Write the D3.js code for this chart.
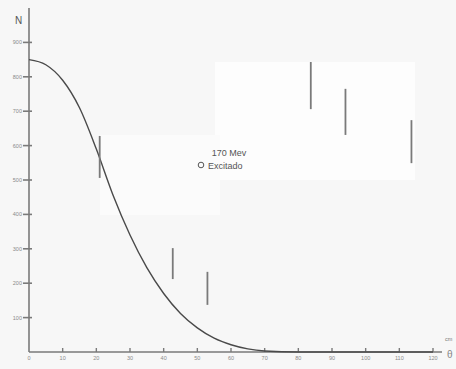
<!DOCTYPE html>
<html lang="en">
<head>
  <meta charset="UTF-8">
  <title>170 Mev Excitado</title>
  <style>
    body { margin: 0; background: #f8f8f8; }
    text { font-family: "Liberation Sans", Arial, sans-serif; }
  </style>
</head>
<body>
  <div id="chart"></div>
  <script src="https://d3js.org/d3.v7.min.js"></script>
  <script>
    // angles (deg) and counts
    const curveTheta = [0, 5, 10, 15, 20, 25, 30, 35, 40, 45, 50, 55, 60, 65, 70, 80, 90, 100, 110, 120];
    const curveN = [850, 835, 790, 710, 590, 455, 340, 245, 170, 112, 70, 40, 21, 9, 3, 0, 0, 0, 0, 0];

    // error bars: angle, low, high
    const barTheta = [21, 42.7, 53, 83.7, 94, 113.6];
    const barLow = [506, 212, 137, 706, 631, 549];
    const barHigh = [628, 302, 233, 843, 765, 674];

    const xTicks = [0, 10, 20, 30, 40, 50, 60, 70, 80, 90, 100, 110, 120];
    const yTicks = [100, 200, 300, 400, 500, 600, 700, 800, 900];

    const width = 456, height = 369;
    const svg = d3.select("#chart").append("svg")
      .attr("width", width).attr("height", height);

    // scanned paper patches
    svg.append("rect").attr("x", 0).attr("y", 0).attr("width", width).attr("height", height).attr("fill", "#f7f7f7");
    svg.append("rect").attr("x", 215).attr("y", 62).attr("width", 200).attr("height", 118).attr("fill", "#fdfdfd");
    svg.append("rect").attr("x", 100).attr("y", 135).attr("width", 120).attr("height", 80).attr("fill", "#fbfbfb");

    const x = d3.scaleLinear().domain([0, 120]).range([29, 433]);
    const y = d3.scaleLinear().domain([0, 900]).range([352, 42.4]);

    const axisColor = "#7a7a7a";

    // y axis
    svg.append("line").attr("x1", 29).attr("x2", 29).attr("y1", 8).attr("y2", y(0))
      .attr("stroke", axisColor).attr("stroke-width", 1.6);
    const yt = svg.append("g").selectAll("g").data(yTicks).join("g")
      .attr("transform", d => `translate(29,${y(d)})`);
    yt.append("line").attr("x1", -6).attr("x2", 3).attr("stroke", axisColor).attr("stroke-width", 1.6);
    yt.append("text").attr("x", -7).attr("y", 2).attr("text-anchor", "end")
      .attr("font-size", 5.5).attr("fill", "#8a8a8a").text(d => d);
    svg.append("text").attr("x", 15).attr("y", 24).attr("font-size", 10)
      .attr("font-family", "Liberation Serif, serif").attr("fill", "#555").text("N");

    // x axis
    svg.append("line").attr("x1", 29).attr("x2", 442).attr("y1", y(0)).attr("y2", y(0))
      .attr("stroke", axisColor).attr("stroke-width", 1.6);
    const xt = svg.append("g").selectAll("g").data(xTicks).join("g")
      .attr("transform", d => `translate(${x(d)},${y(0)})`);
    xt.filter(d => d > 0).append("line").attr("y1", -4).attr("y2", 0).attr("stroke", axisColor).attr("stroke-width", 1.4);
    xt.append("text").attr("y", 8).attr("text-anchor", "middle")
      .attr("font-size", 5.5).attr("fill", "#8a8a8a").text(d => d);
    svg.append("text").attr("x", 445).attr("y", 341).attr("font-size", 5.5).attr("fill", "#777").text("cm");
    svg.append("text").attr("x", 447).attr("y", 358).attr("font-size", 10)
      .attr("font-family", "Liberation Serif, serif").attr("fill", "#888").text("θ");

    // curve
    const pts = curveTheta.map((t, i) => [t, curveN[i]]);
    svg.append("path").datum(pts)
      .attr("fill", "none").attr("stroke", "#4a4a4a").attr("stroke-width", 1.4)
      .attr("d", d3.line().x(d => x(d[0])).y(d => y(d[1])).curve(d3.curveMonotoneX));

    // error bars
    svg.append("g").selectAll("line").data(barTheta).join("line")
      .attr("x1", d => x(d)).attr("x2", d => x(d))
      .attr("y1", (d, i) => y(barLow[i])).attr("y2", (d, i) => y(barHigh[i]))
      .attr("stroke", "#7a7a7a").attr("stroke-width", 1.8);

    // legend
    svg.append("text").attr("x", 229).attr("y", 156).attr("text-anchor", "middle")
      .attr("font-size", 9).attr("fill", "#555").text("170 Mev");
    svg.append("circle").attr("cx", 201).attr("cy", 165).attr("r", 2.8)
      .attr("fill", "none").attr("stroke", "#555").attr("stroke-width", 1);
    svg.append("text").attr("x", 208).attr("y", 168.5)
      .attr("font-size", 9).attr("fill", "#555").text("Excitado");
  </script>
</body>
</html>
